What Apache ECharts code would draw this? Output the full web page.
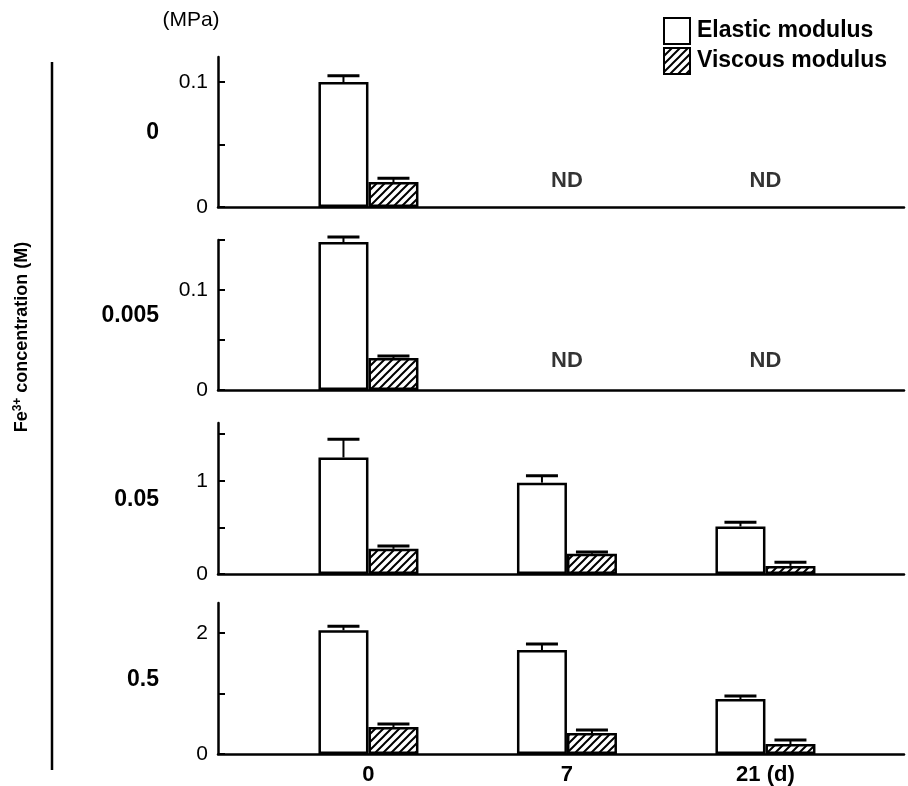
<!DOCTYPE html>
<html>
<head>
<meta charset="utf-8">
<script src="https://cdn.jsdelivr.net/npm/echarts@6/dist/echarts.min.js"></script>
<style>
  html, body { margin: 0; padding: 0; background: #fff; }
  #chart { width: 908px; height: 786px; }
</style>
</head>
<body>
<div id="chart"></div>
<script>
// days (x categories), Fe3+ concentration rows
var days = ['0', '7', '21 (d)'];
var concentrations = ['0', '0.005', '0.05', '0.5'];

// moduli per concentration row, index = day position (null = ND)
var elastic0 = [0.100, null, null];
var elastic0005 = [0.148, null, null];
var elastic005 = [1.25, 0.98, 0.51];
var elastic05 = [2.05, 1.72, 0.91];

var viscous0 = [0.020, null, null];
var viscous0005 = [0.032, null, null];
var viscous005 = [0.27, 0.217, 0.087];
var viscous05 = [0.446, 0.347, 0.165];

// upper error bar lengths
var elasticErr0 = [0.005, null, null];
var elasticErr0005 = [0.005, null, null];
var elasticErr005 = [0.195, 0.075, 0.045];
var elasticErr05 = [0.065, 0.10, 0.05];

var viscousErr0 = [0.003, null, null];
var viscousErr0005 = [0.002, null, null];
var viscousErr005 = [0.03, 0.02, 0.04];
var viscousErr05 = [0.05, 0.05, 0.066];

// where "ND" is written (day position, value)
var ndRow0 = [[1, 0.021], [2, 0.021]];
var ndRow0005 = [[1, 0.029], [2, 0.029]];

// y axis ranges, tick values and labelled values per row
var yMax = [0.12, 0.15, 1.62, 2.5];
var yTicks = [[0, 0.05, 0.1], [0, 0.05, 0.1, 0.15], [0, 0.5, 1, 1.5], [0, 1, 2]];
var yLabels = [[0, 0.1], [0, 0.1], [0, 1], [0, 2]];

var elasticRows = [elastic0, elastic0005, elastic005, elastic05];
var viscousRows = [viscous0, viscous0005, viscous005, viscous05];
var elasticErrRows = [elasticErr0, elasticErr0005, elasticErr005, elasticErr05];
var viscousErrRows = [viscousErr0, viscousErr0005, viscousErr005, viscousErr05];
var ndRows = [ndRow0, ndRow0005, null, null];

// hatch pattern for viscous bars
var hatch = document.createElement('canvas');
hatch.width = 8; hatch.height = 8;
var hc = hatch.getContext('2d');
hc.fillStyle = '#fff';
hc.fillRect(0, 0, 8, 8);
hc.strokeStyle = '#000';
hc.lineWidth = 2;
hc.beginPath();
hc.moveTo(0, 8); hc.lineTo(8, 0);
hc.moveTo(-2, 2); hc.lineTo(2, -2);
hc.moveTo(6, 10); hc.lineTo(10, 6);
hc.stroke();
var hatchFill = { image: hatch, repeat: 'repeat' };

var FONT = 'Liberation Sans, Arial, Helvetica, sans-serif';
var gridTops = [57, 240, 423, 603];
var gridHeights = [150, 150, 151, 151];

function toPairs(arr) {
    var out = [];
    for (var i = 0; i < arr.length; i++) {
        if (arr[i] != null) out.push([i, arr[i]]);
    }
    return out;
}
function toErr(vals, errs) {
    var out = [];
    for (var i = 0; i < vals.length; i++) {
        if (vals[i] != null) out.push([i, vals[i], errs[i]]);
    }
    return out;
}
function errorBar(offset) {
    return function (params, api) {
        var x = api.value(0), v = api.value(1), e = api.value(2);
        var p0 = api.coord([x, v]);
        var p1 = api.coord([x, v + e]);
        var cx = p0[0] + offset;
        return {
            type: 'group',
            children: [
                {type: 'line', shape: {x1: cx, y1: p0[1], x2: cx, y2: p1[1]}, style: {stroke: '#000', lineWidth: 2}},
                {type: 'line', shape: {x1: cx - 16, y1: p1[1], x2: cx + 16, y2: p1[1]}, style: {stroke: '#000', lineWidth: 3}}
            ]
        };
    };
}

var grid = [], xAxis = [], yAxis = [], series = [];
for (var r = 0; r < 4; r++) {
    grid.push({left: 218, width: 686, top: gridTops[r], height: gridHeights[r]});
    xAxis.push({
        type: 'value', gridIndex: r, min: -0.758, max: 2.698,
        splitLine: {show: false},
        axisTick: {show: false},
        axisLine: {show: true, onZero: false, lineStyle: {color: '#000', width: 2.5}},
        axisLabel: {
            show: r === 3, customValues: [0, 1, 2], margin: 10,
            formatter: function (v) { return days[v]; },
            color: '#000', fontFamily: FONT, fontWeight: 'bold', fontSize: 22
        }
    });
    yAxis.push({
        type: 'value', gridIndex: r, min: 0, max: yMax[r],
        splitLine: {show: false},
        axisLine: {show: true, onZero: false, lineStyle: {color: '#000', width: 2.5}},
        axisTick: {show: true, inside: true, length: 7, customValues: yTicks[r], lineStyle: {color: '#000', width: 2}},
        axisLabel: {customValues: yLabels[r], color: '#000', fontFamily: FONT, fontSize: 21, margin: 10}
    });
    series.push({
        name: 'Elastic modulus', type: 'bar', xAxisIndex: r, yAxisIndex: r,
        barWidth: 50, barGap: '0%',
        itemStyle: {color: '#fff', borderColor: '#000', borderWidth: 2.5},
        data: toPairs(elasticRows[r]), z: 2
    });
    series.push({
        name: 'Viscous modulus', type: 'bar', xAxisIndex: r, yAxisIndex: r,
        barWidth: 50, barGap: '0%',
        itemStyle: {color: hatchFill, borderColor: '#000', borderWidth: 2.5},
        data: toPairs(viscousRows[r]), z: 2
    });
    series.push({
        type: 'custom', xAxisIndex: r, yAxisIndex: r, z: 3,
        renderItem: errorBar(-25), data: toErr(elasticRows[r], elasticErrRows[r])
    });
    series.push({
        type: 'custom', xAxisIndex: r, yAxisIndex: r, z: 3,
        renderItem: errorBar(25), data: toErr(viscousRows[r], viscousErrRows[r])
    });
    if (ndRows[r]) {
        series.push({
            type: 'scatter', xAxisIndex: r, yAxisIndex: r, symbolSize: 1,
            itemStyle: {color: 'rgba(0,0,0,0)'},
            label: {show: true, position: 'inside', formatter: 'ND', color: '#000',
                fontFamily: FONT, fontWeight: 'bold', fontSize: 22},
            data: ndRows[r]
        });
    }
}

// row labels (concentrations)
var graphics = [];
for (var k = 0; k < 4; k++) {
    graphics.push({
        type: 'text', x: 159, y: gridTops[k] + gridHeights[k] / 2 + 1,
        style: {text: concentrations[k], textAlign: 'right', textVerticalAlign: 'middle',
            fill: '#000', font: 'bold 23px ' + FONT}
    });
}
graphics.push({
    type: 'text', x: 191, y: 20,
    style: {text: '(MPa)', textAlign: 'center', textVerticalAlign: 'middle',
        fill: '#000', font: '21px ' + FONT}
});
graphics.push({
    type: 'line', shape: {x1: 52, y1: 62, x2: 52, y2: 770},
    style: {stroke: '#000', lineWidth: 2.5}
});
graphics.push({
    type: 'text', x: 22, y: 337, rotation: Math.PI / 2,
    style: {
        text: '{a|Fe}{s|3+}{a| concentration (M)}',
        textAlign: 'center', textVerticalAlign: 'middle',
        rich: {
            a: {fontFamily: FONT, fontWeight: 'bold', fontSize: 18, fill: '#000'},
            s: {fontFamily: FONT, fontWeight: 'bold', fontSize: 12, fill: '#000', padding: [0, 0, 9, 0]}
        }
    }
});

var option = {
    animation: false,
    backgroundColor: '#fff',
    legend: {
        left: 663, top: 17, orient: 'vertical', padding: 0,
        itemWidth: 26, itemHeight: 26, itemGap: 2,
        icon: 'rect',
        data: ['Elastic modulus', 'Viscous modulus'],
        textStyle: {color: '#000', fontFamily: FONT, fontWeight: 'bold', fontSize: 23, padding: [0, 0, 0, 2]}
    },
    grid: grid,
    xAxis: xAxis,
    yAxis: yAxis,
    series: series,
    graphic: graphics
};

var myChart = echarts.init(document.getElementById('chart'));
myChart.setOption(option);
</script>
</body>
</html>
